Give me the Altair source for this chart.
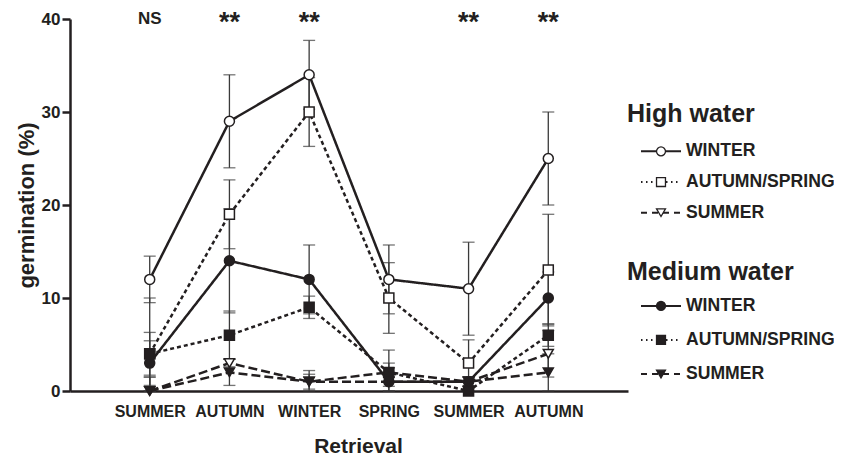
import json
import altair as alt
import pandas as pd

# ---------------- data ----------------
categories = ["SUMMER", "AUTUMN", "WINTER", "SPRING", "SUMMER", "AUTUMN"]
significance = ["NS", "**", "**", "", "**", "**"]

water_levels = ["High water", "Medium water"]
seasons = ["WINTER", "AUTUMN/SPRING", "SUMMER"]

high_winter = [12, 29, 34, 12, 11, 25]
high_winter_err = [2.5, 5.0, 3.7, 3.7, 5.0, 5.0]
high_autspr = [4, 19, 30, 10, 3, 13]
high_autspr_err = [6.0, 3.7, 3.7, 3.8, 2.5, 6.0]
high_summer = [0, 3, 1, 2, 1, 4]
high_summer_err = [1.5, 0.4, 1.2, 1.0, 0.5, 2.5]

med_winter = [3, 14, 12, 1, 1, 10]
med_winter_err = [2.4, 5.6, 3.7, 0.5, 0.5, 2.8]
med_autspr = [4, 6, 9, 2, 0, 6]
med_autspr_err = [2.3, 2.6, 1.2, 2.4, 0.5, 1.2]
med_summer = [0, 2, 1, 1, 1, 2]
med_summer_err = [1.5, 1.4, 0.8, 1.0, 0.5, 2.0]

series = [
    ("High water", "WINTER", high_winter, high_winter_err),
    ("High water", "AUTUMN/SPRING", high_autspr, high_autspr_err),
    ("High water", "SUMMER", high_summer, high_summer_err),
    ("Medium water", "WINTER", med_winter, med_winter_err),
    ("Medium water", "AUTUMN/SPRING", med_autspr, med_autspr_err),
    ("Medium water", "SUMMER", med_summer, med_summer_err),
]

rows = []
for order, (water, season, vals, errs) in enumerate(series):
    for i, (v, e) in enumerate(zip(vals, errs)):
        rows.append({
            "series": f"{water} {season}", "order": order, "water": water,
            "season": season, "x": i + 1, "value": v,
            "lo": max(0, v - e), "hi": v + e,
        })
df = pd.DataFrame(rows)

ann = pd.DataFrame({"x": list(range(1, len(categories) + 1)),
                    "text": significance, "top": [40] * len(categories)})

FONT = "Liberation Sans"
INK = "#231f20"
ERR = "#3a3a3a"

shape_scale = alt.Scale(domain=seasons, range=["circle", "square", "triangle-down"])
fill_scale = alt.Scale(domain=water_levels, range=["white", INK])
dash_scale = alt.Scale(domain=seasons, range=[[1, 0], [4, 3], [9, 4]])

label_expr = json.dumps(categories) + "[datum.value - 1]"

x_enc = alt.X("x:Q", scale=alt.Scale(domain=[0, 7]),
              axis=alt.Axis(values=list(range(1, 7)), labelExpr=label_expr,
                            ticks=False, grid=False, title="Retrieval",
                            labelFontSize=16, labelFontWeight="bold",
                            labelPadding=12, titleFontSize=21,
                            titleFontWeight="bold", titlePadding=16,
                            titleX=288, domainWidth=2.5, domainColor=INK,
                            labelColor=INK, titleColor=INK, labelFont=FONT,
                            titleFont=FONT))
y_scale = alt.Scale(domain=[0, 40])
y_enc = alt.Y("value:Q", scale=y_scale,
              axis=alt.Axis(values=[0, 10, 20, 30, 40], grid=False,
                            title="germination (%)", tickSize=8, tickWidth=2.5,
                            tickColor=INK, domainWidth=2.5, domainColor=INK,
                            labelFontSize=17, labelFontWeight="bold",
                            labelPadding=2, titleFontSize=22,
                            titleFontWeight="bold", titlePadding=3,
                            labelColor=INK, titleColor=INK, labelFont=FONT,
                            titleFont=FONT))

base = alt.Chart(df)
err_rule = base.mark_rule(color=ERR, strokeWidth=1.3).encode(
    x=x_enc, y=alt.Y("lo:Q", scale=y_scale), y2="hi:Q")
cap_lo = base.mark_tick(orient="horizontal", color=ERR, size=12,
                        thickness=1.3).encode(x="x:Q", y=alt.Y("lo:Q", scale=y_scale))
cap_hi = base.mark_tick(orient="horizontal", color=ERR, size=12,
                        thickness=1.3).encode(x="x:Q", y=alt.Y("hi:Q", scale=y_scale))
lines = base.mark_line(color=INK, strokeWidth=2.5).encode(
    x="x:Q", y=y_enc, detail="series:N",
    strokeDash=alt.StrokeDash("season:N", scale=dash_scale, legend=None),
    order="x:Q")
points = base.mark_point(filled=True, stroke=INK, strokeWidth=1.5, size=100,
                         opacity=1).encode(
    x="x:Q", y="value:Q",
    shape=alt.Shape("season:N", scale=shape_scale, legend=None),
    fill=alt.Fill("water:N", scale=fill_scale, legend=None))

ann_base = alt.Chart(ann)
ns_text = ann_base.transform_filter("datum.text == 'NS'").mark_text(
    font=FONT, fontWeight="bold", fontSize=17, color=INK, baseline="alphabetic",
    dy=5).encode(x="x:Q", y=alt.Y("top:Q", scale=y_scale), text="text:N")
star_text = ann_base.transform_filter("datum.text == '**'").mark_text(
    font=FONT, fontWeight="bold", fontSize=27, color=INK, baseline="alphabetic",
    dy=12).encode(x="x:Q", y=alt.Y("top:Q", scale=y_scale), text="text:N")

main = alt.layer(err_rule, cap_lo, cap_hi, lines, points, ns_text, star_text)

# ---------------- custom legend (drawn right of the plot) ----------------
group_base = [4.06, 8.80]
group_step = [0.94, 1.045]
title_offset = [1.15, 1.03]
leg_rows = []
title_rows = []
for g, water in enumerate(water_levels):
    title_rows.append({"row": group_base[g] - title_offset[g], "label": water})
    for i, season in enumerate(seasons):
        leg_rows.append({"row": group_base[g] + group_step[g] * i,
                         "water": water, "season": season, "label": season})
leg_df = pd.DataFrame(leg_rows)
title_df = pd.DataFrame(title_rows)

leg_y = alt.Scale(domain=[0, 11.41], reverse=True)
leg_dash = alt.Scale(domain=seasons, range=[[1, 0], [1.5, 3.5], [6, 5]])
LX = 557  # legend left edge, just past the plot's right end

leg_titles = alt.Chart(title_df).mark_text(
    font=FONT, fontWeight="bold", fontSize=25, color=INK, align="left",
    baseline="middle").encode(
    x=alt.value(LX), y=alt.Y("row:Q", scale=leg_y, axis=None), text="label:N")
leg_lines = alt.Chart(leg_df).mark_rule(color=INK, strokeWidth=2).encode(
    x=alt.value(LX + 14), x2=alt.value(LX + 54),
    y=alt.Y("row:Q", scale=leg_y, axis=None),
    strokeDash=alt.StrokeDash("season:N", scale=leg_dash, legend=None))
leg_points = alt.Chart(leg_df).mark_point(filled=True, stroke=INK,
                                          strokeWidth=1.3, size=80,
                                          opacity=1).encode(
    x=alt.value(LX + 34), y=alt.Y("row:Q", scale=leg_y, axis=None),
    shape=alt.Shape("season:N", scale=shape_scale, legend=None),
    fill=alt.Fill("water:N", scale=fill_scale, legend=None))
leg_labels = alt.Chart(leg_df).mark_text(
    font=FONT, fontWeight="bold", fontSize=17.6, color=INK, align="left",
    baseline="middle").encode(
    x=alt.value(LX + 59), y=alt.Y("row:Q", scale=leg_y, axis=None),
    text="label:N")

legend_layer = alt.layer(leg_titles, leg_lines, leg_points, leg_labels)

chart = alt.layer(main, legend_layer).resolve_scale(
    y="independent", shape="independent", fill="independent",
    strokeDash="independent").properties(
    width=558, height=372,
    autosize=alt.AutoSizeParams(type="none"),
    padding={"left": 62, "top": 11, "right": 206, "bottom": 66},
    background="white").configure_view(stroke=None)

chart.save("out.html", embed_options={"renderer": "svg", "actions": False})
